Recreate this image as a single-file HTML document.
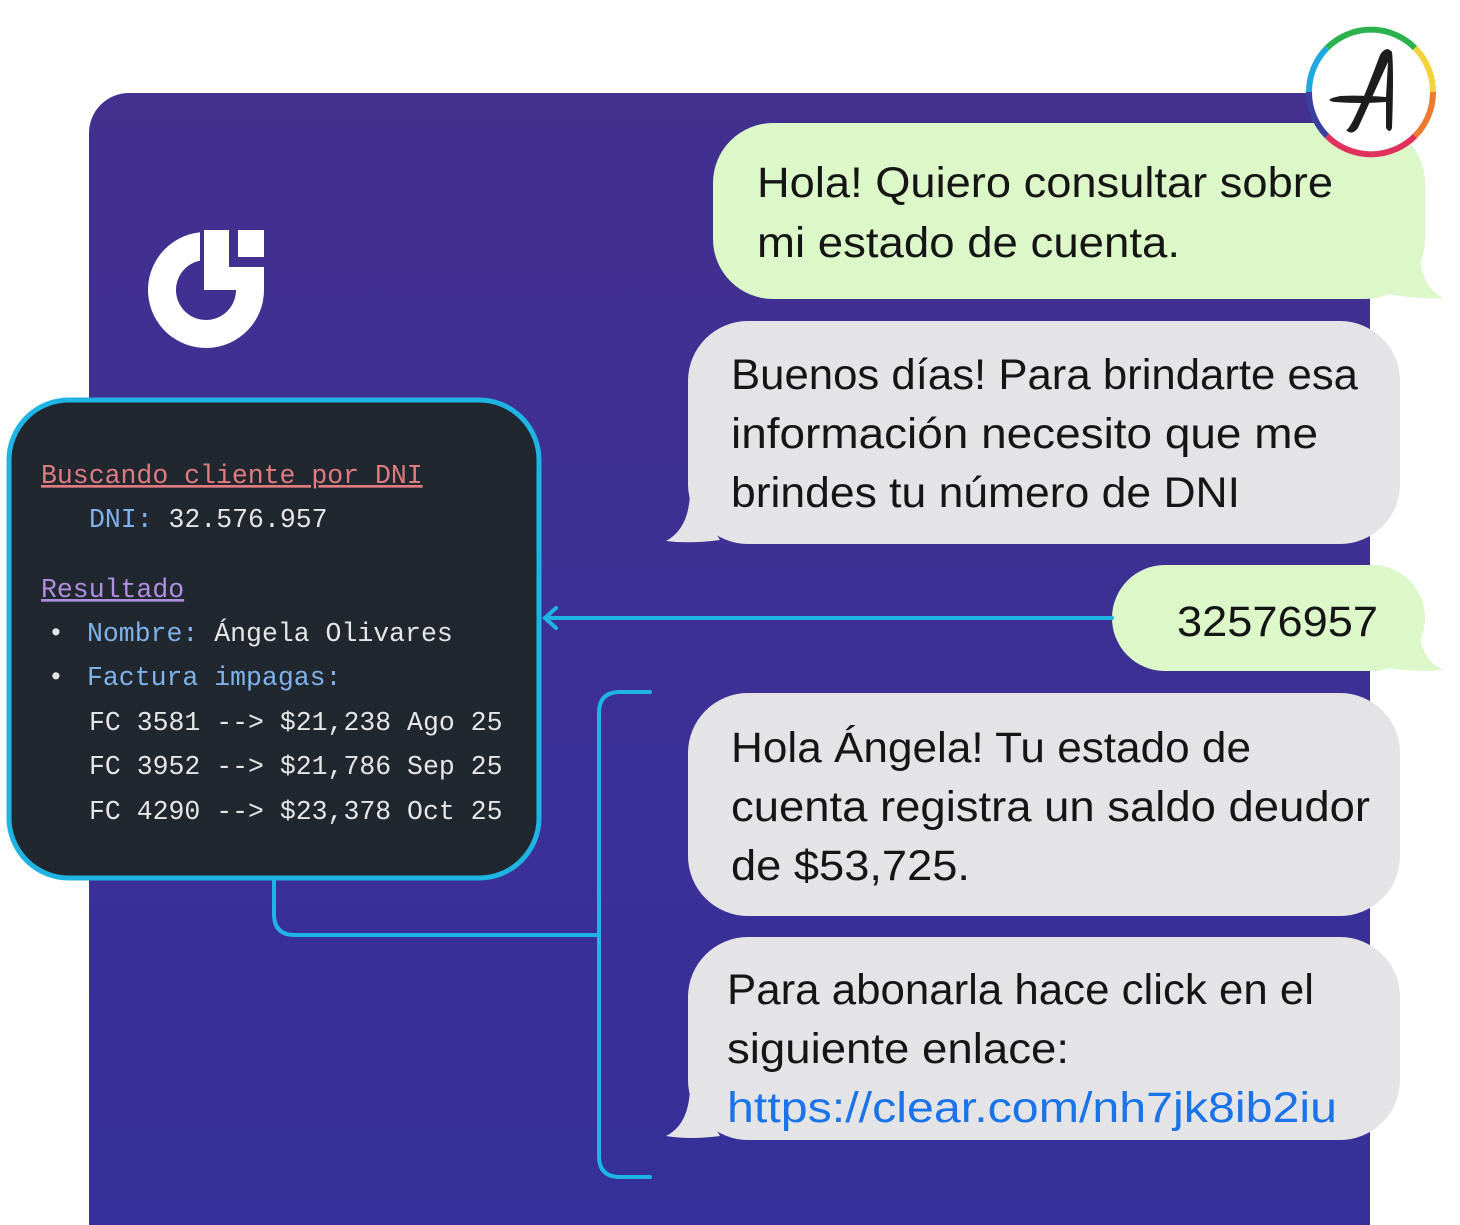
<!DOCTYPE html>
<html><head><meta charset="utf-8"><style>
html,body{margin:0;padding:0;background:#fff;width:1460px;height:1225px;overflow:hidden}
svg{display:block}
.b{font-family:"Liberation Sans",sans-serif;font-size:43px;fill:#151515}
.m{font-family:"Liberation Mono",monospace;font-size:26.5px}
</style></head><body>
<svg width="1460" height="1225" viewBox="0 0 1460 1225">
<defs><linearGradient id="pg" x1="0" y1="0" x2="0" y2="1"><stop offset="0" stop-color="#43308f"/><stop offset="1" stop-color="#35309a"/></linearGradient></defs>
<rect x="89" y="93" width="1281" height="1180" rx="40" fill="url(#pg)"/>
<!-- logo -->
<path d="M200,232.3 A58,58 0 1 0 264,290 L236,290 A30,30 0 1 1 200,260.6 Z" fill="#fff"/>
<rect x="204" y="230" width="25" height="60" fill="#fff"/>
<rect x="204" y="267" width="60" height="23" fill="#fff"/>
<rect x="238" y="230" width="26" height="27" fill="#fff"/>
<!-- bubbles -->
<g fill="#dcf7c8">
<rect x="713" y="123" width="712" height="176" rx="60"/>
<path d="M1370,290 Q1410,300 1443,298 Q1418,285 1420,245 Z"/>
<rect x="1112" y="565" width="313" height="106" rx="53"/>
<path d="M1370,665 Q1410,673 1443,670 Q1418,658 1420,625 Z"/>
</g>
<g fill="#e4e4e6">
<rect x="688" y="321" width="712" height="223" rx="60"/>
<path d="M720,540 Q690,544 666,541 Q690,528 690,490 Z"/>
<rect x="688" y="693" width="712" height="223" rx="60"/>
<rect x="688" y="937" width="712" height="203" rx="60"/>
<path d="M720,1136 Q690,1140 666,1136 Q690,1124 690,1085 Z"/>
</g>
<text class="b" x="757" y="197" textLength="576" lengthAdjust="spacingAndGlyphs">Hola! Quiero consultar sobre</text>
<text class="b" x="757" y="257" textLength="423" lengthAdjust="spacingAndGlyphs">mi estado de cuenta.</text>
<text class="b" x="731" y="389" textLength="627" lengthAdjust="spacingAndGlyphs">Buenos días! Para brindarte esa</text>
<text class="b" x="731" y="448" textLength="587" lengthAdjust="spacingAndGlyphs">información necesito que me</text>
<text class="b" x="731" y="507" textLength="509" lengthAdjust="spacingAndGlyphs">brindes tu número de DNI</text>
<text class="b" x="1177" y="636" textLength="201" lengthAdjust="spacingAndGlyphs">32576957</text>
<text class="b" x="731" y="762" textLength="520" lengthAdjust="spacingAndGlyphs">Hola Ángela! Tu estado de</text>
<text class="b" x="731" y="821" textLength="639" lengthAdjust="spacingAndGlyphs">cuenta registra un saldo deudor</text>
<text class="b" x="731" y="880" textLength="239" lengthAdjust="spacingAndGlyphs">de $53,725.</text>
<text class="b" x="727" y="1004" textLength="587" lengthAdjust="spacingAndGlyphs">Para abonarla hace click en el</text>
<text class="b" x="727" y="1063" textLength="342" lengthAdjust="spacingAndGlyphs">siguiente enlace:</text>
<text class="b" x="727" y="1122" textLength="610" lengthAdjust="spacingAndGlyphs" style="fill:#1a73e8">https://clear.com/nh7jk8ib2iu</text>
<!-- connectors -->
<g stroke="#1eb4e3" stroke-width="4" fill="none" stroke-linecap="round">
<line x1="1112" y1="618" x2="545" y2="618"/>
<path d="M556,608 L545,618 L556,628"/>
<path d="M650,692 H620 Q599,692 599,713 V1156 Q599,1177 620,1177 H650"/>
<path d="M274,879 V914 Q274,935 295,935 H599"/>
</g>
<!-- code box -->
<rect x="9" y="400" width="530" height="478" rx="60" fill="#21272e" stroke="#1eb4e3" stroke-width="5"/>
<g class="m">
<text x="41" y="483" fill="#e07b80" text-decoration="underline">Buscando cliente por DNI</text>
<text x="89" y="527"><tspan fill="#7fb2ea">DNI:</tspan><tspan fill="#e6e6e6"> 32.576.957</tspan></text>
<text x="41" y="597" fill="#b18ee0" text-decoration="underline">Resultado</text>
<text x="48" y="641" fill="#e6e6e6">•</text>
<text x="87" y="641"><tspan fill="#7fb2ea">Nombre:</tspan><tspan fill="#e6e6e6"> Ángela Olivares</tspan></text>
<text x="48" y="685" fill="#e6e6e6">•</text>
<text x="87" y="685" fill="#7fb2ea">Factura impagas:</text>
<text x="89" y="730" fill="#e6e6e6">FC 3581 --&gt; $21,238 Ago 25</text>
<text x="89" y="774" fill="#e6e6e6">FC 3952 --&gt; $21,786 Sep 25</text>
<text x="89" y="819" fill="#e6e6e6">FC 4290 --&gt; $23,378 Oct 25</text>
</g>
<!-- A logo -->
<circle cx="1371" cy="92" r="62" fill="#fff"/>
<g fill="none" stroke-width="6">
<path d="M1327,48 A62,62 0 0 1 1415,48" stroke="#2bb24c"/>
<path d="M1415,48 A62,62 0 0 1 1433,92" stroke="#f2d53c"/>
<path d="M1433,92 A62,62 0 0 1 1415,136" stroke="#ec7a30"/>
<path d="M1415,136 A62,62 0 0 1 1327,136" stroke="#e0315c"/>
<path d="M1327,136 A62,62 0 0 1 1309,92" stroke="#3b3fa0"/>
<path d="M1309,92 A62,62 0 0 1 1327,48" stroke="#1fa9e0"/>
</g>
<path d="M1346,130 Q1352,130 1380,55 Q1386,45 1392,52 Q1394,70 1392,128 Q1390,134 1386,128 L1386,102 Q1360,104 1335,102 Q1322,100 1340,96 Q1360,95 1386,97 L1388,62 L1358,128 Q1352,136 1346,130 Z" fill="#1d1d1d"/>
</svg>
</body></html>
